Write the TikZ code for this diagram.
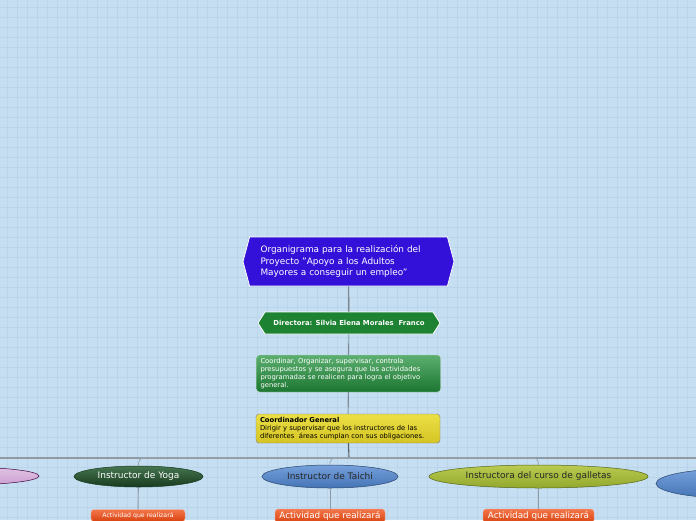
\documentclass[tikz,border=0pt]{standalone}
\usepackage{fontspec}
\setmainfont{DejaVu Sans}
\usetikzlibrary{positioning,shapes.symbols,shapes.geometric}
\definecolor{gridbg}{HTML}{C5DEF1}
\definecolor{gridln}{HTML}{BAD4EA}
\definecolor{titleblue}{HTML}{3411D8}
\definecolor{dirgreen}{HTML}{1D8231}
\definecolor{notetop}{HTML}{5CAF70}
\definecolor{notebot}{HTML}{1C7631}
\definecolor{coordtop}{HTML}{EAE046}
\definecolor{coordbot}{HTML}{D6C424}
\definecolor{yogatop}{HTML}{457650}
\definecolor{yogabot}{HTML}{183A1E}
\definecolor{taichitop}{HTML}{75A0DA}
\definecolor{taichibot}{HTML}{4574B6}
\definecolor{galltop}{HTML}{B9CB50}
\definecolor{gallbot}{HTML}{92A82C}
\definecolor{pinktop}{HTML}{E2C2E4}
\definecolor{pinkbot}{HTML}{CBA0D0}
\definecolor{linkgray}{HTML}{8E9BA5}
\definecolor{darklink}{HTML}{5A6066}
\definecolor{acttop}{HTML}{F2764A}
\definecolor{actbot}{HTML}{D9420F}

\tikzset{
  hexbox/.style={signal, signal to=west and east, draw=white, line width=0.8pt,
    text=white, inner sep=0pt},
  notebox/.style={rectangle, rounded corners=3pt, align=left, inner xsep=4pt,
    inner ysep=0pt, text width=176pt, font=\fontsize{6.8}{8}\selectfont},
  instr/.style={ellipse, inner sep=0pt, line width=0.5pt,
    font=\fontsize{9}{10}\selectfont},
  actbox/.style={rectangle, rounded corners=3pt, inner sep=0pt, text=white,
    top color=acttop, bottom color=actbot, draw=acttop!60!white},
  link/.style={draw=darklink, line width=0.9pt},
  bus/.style={draw=linkgray, line width=1.6pt, rounded corners=5pt},
  branch/.style={draw=linkgray!85!white, line width=0.8pt, rounded corners=5pt},
  sublink/.style={draw=linkgray, line width=0.9pt}
}

\begin{document}
\begin{tikzpicture}[x=1pt,y=-1pt]
\useasboundingbox (0,0) rectangle (696,520);
\clip (0,0) rectangle (696,520);

% background grid
\fill[gridbg] (0,0) rectangle (696,520);
\foreach \x in {7,17,...,697} {
    \draw[gridln, line width=0.6pt] (\x,0) -- (\x,520);
}
\foreach \y in {7,17,...,527} {
    \draw[gridln, line width=0.6pt] (0,\y) -- (696,\y);
}

% top of the chart
\node[hexbox, fill=titleblue, minimum width=211pt, minimum height=49pt,
    signal pointer angle=150, text width=176pt, align=left,
    font=\fontsize{8.9}{11.5}\selectfont] (titulo) at (348.5,261.5)
    {Organigrama para la realización del\\Proyecto "Apoyo a los Adultos\\Mayores a conseguir un empleo"};

\node[hexbox, fill=dirgreen, minimum width=182pt, minimum height=22pt,
    signal pointer angle=115, font=\bfseries\fontsize{6.9}{8}\selectfont]
    (directora) at (349,323) {Directora: Silvia Elena Morales\ \ Franco};

\node[notebox, text=white, top color=notetop, bottom color=notebot,
    draw=white!70!dirgreen, minimum height=37pt] (funciones) at (348.5,373.5)
    {Coordinar, Organizar, supervisar, controla\\presupuestos y se asegura que las actividades\\programadas se realicen para logra el objetivo\\general.};

\node[notebox, text=black, top color=coordtop, bottom color=coordbot,
    draw=black!50, minimum height=29pt] (coordinador) at (348,428.5)
    {\textbf{Coordinador General}\\Dirigir y supervisar que los instructores de las\\diferentes\ \ áreas cumplan con sus obligaciones.};

\draw[link] (titulo) -- (directora);
\draw[link, line width=0.6pt] (directora) -- (funciones);
\draw[link, line width=0.6pt] (funciones) -- (coordinador);

% instructors
\node[instr, minimum width=158pt, minimum height=18pt, top color=pinktop,
    bottom color=pinkbot, draw=violet!50!black] (otro) at (-40,476) {};
\node[instr, minimum width=129pt, minimum height=21pt, text=white,
    top color=yogatop, bottom color=yogabot, draw=yogabot] (yoga) at (138.5,476.5)
    {Instructor de Yoga};
\node[instr, minimum width=136pt, minimum height=23pt, text=black!85,
    top color=taichitop, bottom color=taichibot, draw=taichibot!60!black] (taichi) at (330,476.5)
    {Instructor de Taichi};
\node[instr, minimum width=219pt, minimum height=23pt, text=black!85,
    top color=galltop, bottom color=gallbot, draw=gallbot!60!black] (galletas) at (538.5,476.5)
    {Instructora del curso de galletas};
\node[instr, minimum width=148pt, minimum height=29pt,
    top color=taichitop, bottom color=taichibot, draw=taichibot!60!black] (otro2) at (730,483.5) {};

\coordinate (hub) at (349,458);
\draw[link, line width=1.1pt] (coordinador) -- (hub);
\draw[bus] (hub) -| (otro.north);
\draw[bus] (hub) -| (otro2.north);
\draw[branch] (hub) -| (yoga.north);
\draw[branch] (hub) -| (taichi.north);
\draw[branch] (hub) -| (galletas.north);

% activities
\node[actbox, minimum width=94pt, minimum height=12pt, font=\fontsize{6.2}{7}\selectfont]
    (actyoga) at (138,515.5) {Actividad que realizará};
\node[actbox, minimum width=110pt, minimum height=14pt, font=\fontsize{8.8}{10}\selectfont]
    (acttaichi) at (330,516) {Actividad que realizará};
\node[actbox, minimum width=111pt, minimum height=14pt, font=\fontsize{8.8}{10}\selectfont]
    (actgalletas) at (538.5,516) {Actividad que realizará};

\draw[sublink] (yoga) -- (actyoga);
\draw[sublink] (taichi) -- (acttaichi);
\draw[sublink] (galletas) -- (actgalletas);
\end{tikzpicture}
\end{document}
